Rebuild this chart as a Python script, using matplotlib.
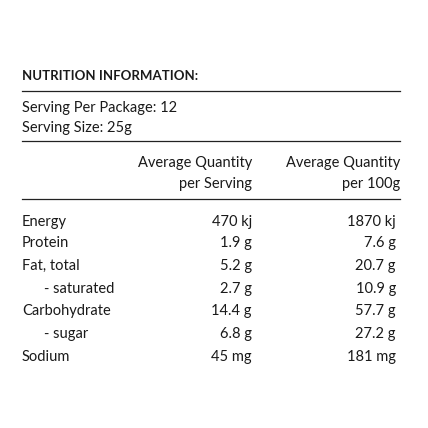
import matplotlib.pyplot as plt

title = "NUTRITION INFORMATION:"
serving_lines = ["Serving Per Package: 12", "Serving Size: 25g"]
col_headers = [("Average Quantity", "per Serving"), ("Average Quantity", "per 100g")]
nutrients = ["Energy", "Protein", "Fat, total", "- saturated", "Carbohydrate", "- sugar", "Sodium"]
indented = [False, False, False, True, False, True, False]
per_serving = ["470 kj", "1.9 g", "5.2 g", "2.7 g", "14.4 g", "6.8 g", "45 mg"]
per_100g = ["1870 kj", "7.6 g", "20.7 g", "10.9 g", "57.7 g", "27.2 g", "181 mg"]
row_y = [222, 243, 266, 289, 311, 334, 357]

W = H = 428
fig = plt.figure(figsize=(4.28, 4.28), dpi=100)
ax = fig.add_axes([0, 0, 1, 1])
ax.set_xlim(0, W)
ax.set_ylim(H, 0)
ax.axis("off")

font = dict(family="Lato", color="#1a1a1a", fontsize=10.5)

ax.text(22, 76, title, va="center", ha="left", fontweight="bold", **{**font, "fontsize": 9.5})
ax.plot([22, 400], [91, 91], color="#222222", lw=0.9)
ax.text(22, 108, serving_lines[0], va="center", **font)
ax.text(22, 128, serving_lines[1], va="center", **font)
ax.plot([22, 400], [141, 141], color="#222222", lw=0.9)

for x, (h1, h2) in zip([252, 400], col_headers):
    ax.text(x, 163, h1, va="center", ha="right", **font)
    ax.text(x, 184, h2, va="center", ha="right", **font)
ax.plot([22, 400], [199, 199], color="#222222", lw=0.9)

for y, name, ind, a, b in zip(row_y, nutrients, indented, per_serving, per_100g):
    ax.text(44 if ind else 22, y, name, va="center", ha="left", **font)
    ax.text(252, y, a, va="center", ha="right", **font)
    ax.text(396, y, b, va="center", ha="right", **font)

fig.savefig("out.png", dpi=100, facecolor="white")
